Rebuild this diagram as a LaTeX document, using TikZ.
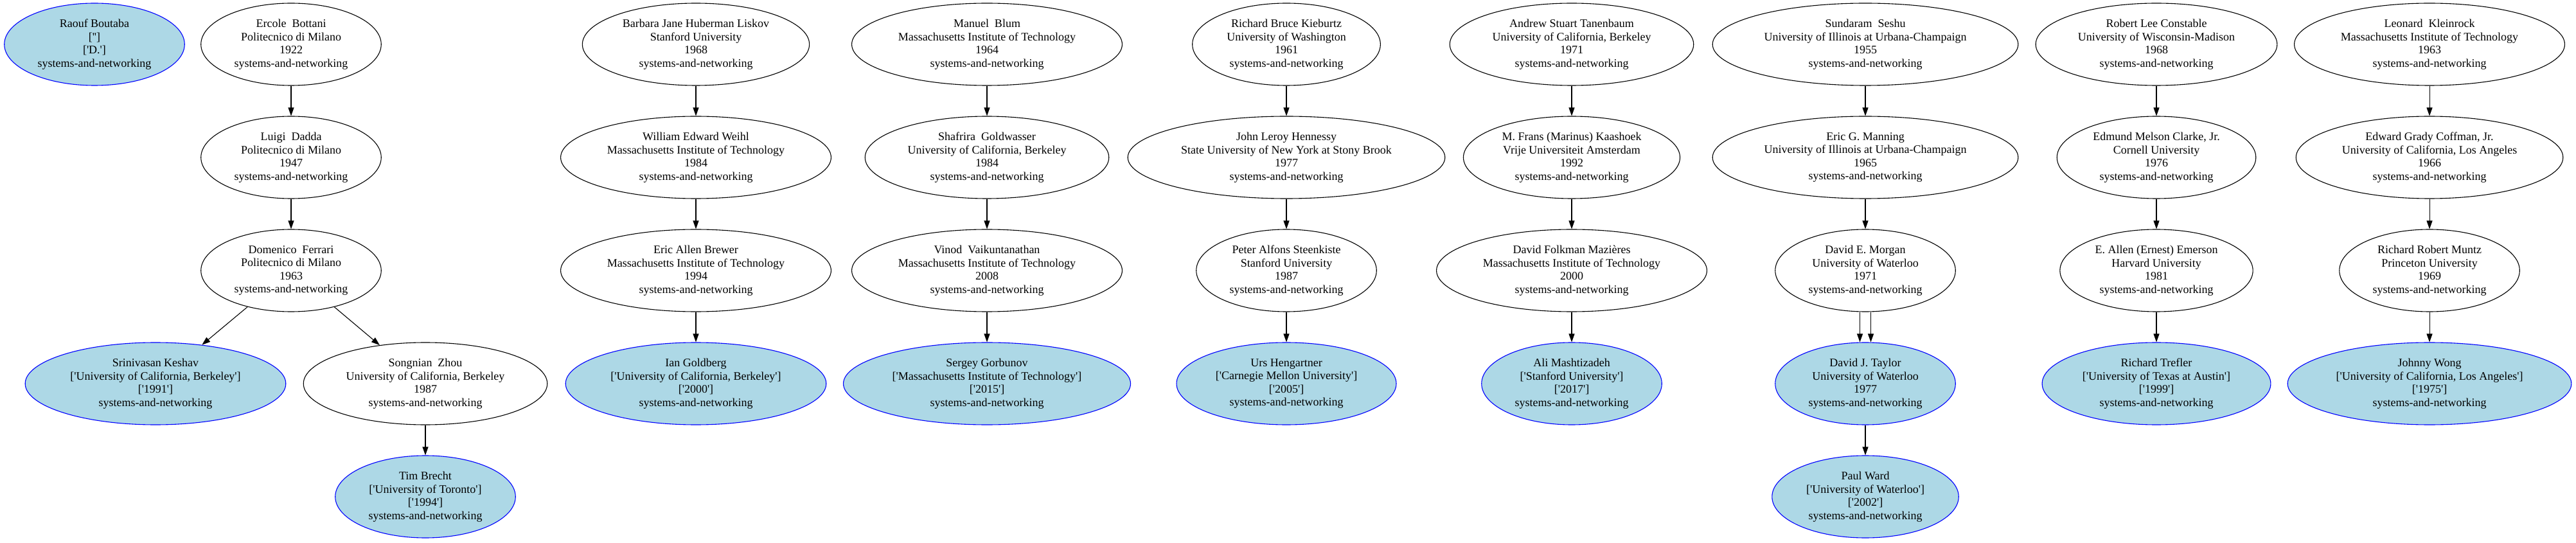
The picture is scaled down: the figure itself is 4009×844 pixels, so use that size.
\documentclass[tikz,border=0pt]{standalone}
\usepackage{fontspec}
\setmainfont{Liberation Serif}[Ligatures=TeXOff]
\usetikzlibrary{arrows.meta, shapes.geometric}
\definecolor{studentfill}{HTML}{ADD8E6}
\tikzstyle{advisor}=[ellipse, draw, line width=1.1pt, inner xsep=10.7pt, inner ysep=5pt, minimum height=128pt, align=center, font=\fontsize{18}{20.5}\selectfont]
\tikzstyle{student}=[advisor, draw=blue, fill=studentfill]
\newcommand{\advisor}{\node[advisor]}
\newcommand{\student}{\node[student]}

\begin{document}
\begin{tikzpicture}[x=1pt, y=1pt,
            every edge/.style={draw, line width=1.1pt, -{Triangle[length=13pt, width=9pt]}}
        ]
            \useasboundingbox (0,0) rectangle (4009,844);
            % first column
            \student (raouf) at (147,775) {Raouf Boutaba\\{}['']\\{}['D.']\\systems-and-networking};
            % Milano chain
            \advisor (ercole) at (453,775) {Ercole~ Bottani\\Politecnico di Milano\\1922\\systems-and-networking};
            \advisor (luigi) at (453,599) {Luigi~ Dadda\\Politecnico di Milano\\1947\\systems-and-networking};
            \advisor (domenico) at (453,423) {Domenico~ Ferrari\\Politecnico di Milano\\1963\\systems-and-networking};
            \student (keshav) at (242,247) {Srinivasan Keshav\\{}['University of California, Berkeley']\\{}['1991']\\systems-and-networking};
            \advisor (zhou) at (662,247) {Songnian~ Zhou\\University of California, Berkeley\\1987\\systems-and-networking};
            \student (brecht) at (662,71) {Tim Brecht\\{}['University of Toronto']\\{}['1994']\\systems-and-networking};
            % Liskov chain
            \advisor (liskov) at (1083,775) {Barbara Jane Huberman Liskov\\Stanford University\\1968\\systems-and-networking};
            \advisor (weihl) at (1083,599) {William Edward Weihl\\Massachusetts Institute of Technology\\1984\\systems-and-networking};
            \advisor (brewer) at (1083,423) {Eric Allen Brewer\\Massachusetts Institute of Technology\\1994\\systems-and-networking};
            \student (goldberg) at (1083,247) {Ian Goldberg\\{}['University of California, Berkeley']\\{}['2000']\\systems-and-networking};
            % Blum chain
            \advisor (blum) at (1536,775) {Manuel~ Blum\\Massachusetts Institute of Technology\\1964\\systems-and-networking};
            \advisor (goldwasser) at (1536,599) {Shafrira~ Goldwasser\\University of California, Berkeley\\1984\\systems-and-networking};
            \advisor (vaikuntanathan) at (1536,423) {Vinod~ Vaikuntanathan\\Massachusetts Institute of Technology\\2008\\systems-and-networking};
            \student (gorbunov) at (1536,247) {Sergey Gorbunov\\{}['Massachusetts Institute of Technology']\\{}['2015']\\systems-and-networking};
            % Kieburtz chain
            \advisor (kieburtz) at (2002,775) {Richard Bruce Kieburtz\\University of Washington\\1961\\systems-and-networking};
            \advisor (hennessy) at (2002,599) {John Leroy Hennessy\\State University of New York at Stony Brook\\1977\\systems-and-networking};
            \advisor (steenkiste) at (2002,423) {Peter Alfons Steenkiste\\Stanford University\\1987\\systems-and-networking};
            \student (hengartner) at (2002,247) {Urs Hengartner\\{}['Carnegie Mellon University']\\{}['2005']\\systems-and-networking};
            % Tanenbaum chain
            \advisor (tanenbaum) at (2446,775) {Andrew Stuart Tanenbaum\\University of California, Berkeley\\1971\\systems-and-networking};
            \advisor (kaashoek) at (2446,599) {M. Frans (Marinus) Kaashoek\\Vrije Universiteit Amsterdam\\1992\\systems-and-networking};
            \advisor (mazieres) at (2446,423) {David Folkman Mazières\\Massachusetts Institute of Technology\\2000\\systems-and-networking};
            \student (mashtizadeh) at (2446,247) {Ali Mashtizadeh\\{}['Stanford University']\\{}['2017']\\systems-and-networking};
            % Seshu chain
            \advisor (seshu) at (2903,775) {Sundaram~ Seshu\\University of Illinois at Urbana-Champaign\\1955\\systems-and-networking};
            \advisor (manning) at (2903,599) {Eric G. Manning\\University of Illinois at Urbana-Champaign\\1965\\systems-and-networking};
            \advisor (morgan) at (2903,423) {David E. Morgan\\University of Waterloo\\1971\\systems-and-networking};
            \student (taylor) at (2903,247) {David J. Taylor\\University of Waterloo\\1977\\systems-and-networking};
            \student (ward) at (2903,71) {Paul Ward\\{}['University of Waterloo']\\{}['2002']\\systems-and-networking};
            % Constable chain
            \advisor (constable) at (3356,775) {Robert Lee Constable\\University of Wisconsin-Madison\\1968\\systems-and-networking};
            \advisor (clarke) at (3356,599) {Edmund Melson Clarke, Jr.\\Cornell University\\1976\\systems-and-networking};
            \advisor (emerson) at (3356,423) {E. Allen (Ernest) Emerson\\Harvard University\\1981\\systems-and-networking};
            \student (trefler) at (3356,247) {Richard Trefler\\{}['University of Texas at Austin']\\{}['1999']\\systems-and-networking};
            % Kleinrock chain
            \advisor (kleinrock) at (3781,775) {Leonard~ Kleinrock\\Massachusetts Institute of Technology\\1963\\systems-and-networking};
            \advisor (coffman) at (3781,599) {Edward Grady Coffman, Jr.\\University of California, Los Angeles\\1966\\systems-and-networking};
            \advisor (muntz) at (3781,423) {Richard Robert Muntz\\Princeton University\\1969\\systems-and-networking};
            \student (wong) at (3781,247) {Johnny Wong\\{}['University of California, Los Angeles']\\{}['1975']\\systems-and-networking};
        \path
                (ercole) edge (luigi)
                (luigi) edge (domenico)
                (domenico) edge (keshav)
                (domenico) edge (zhou)
                (zhou) edge (brecht)
                (liskov) edge (weihl)
                (weihl) edge (brewer)
                (brewer) edge (goldberg)
                (blum) edge (goldwasser)
                (goldwasser) edge (vaikuntanathan)
                (vaikuntanathan) edge (gorbunov)
                (kieburtz) edge (hennessy)
                (hennessy) edge (steenkiste)
                (steenkiste) edge (hengartner)
                (tanenbaum) edge (kaashoek)
                (kaashoek) edge (mazieres)
                (mazieres) edge (mashtizadeh)
                (seshu) edge (manning)
                (manning) edge (morgan)
                ([xshift=-8.5pt]morgan.south) edge ([xshift=-8.5pt]taylor.north)
                ([xshift=8.5pt]morgan.south) edge ([xshift=8.5pt]taylor.north)
                (taylor) edge (ward)
                (constable) edge (clarke)
                (clarke) edge (emerson)
                (emerson) edge (trefler)
                (kleinrock) edge (coffman)
                (coffman) edge (muntz)
                (muntz) edge (wong)
            ;
        \end{tikzpicture}
\end{document}
